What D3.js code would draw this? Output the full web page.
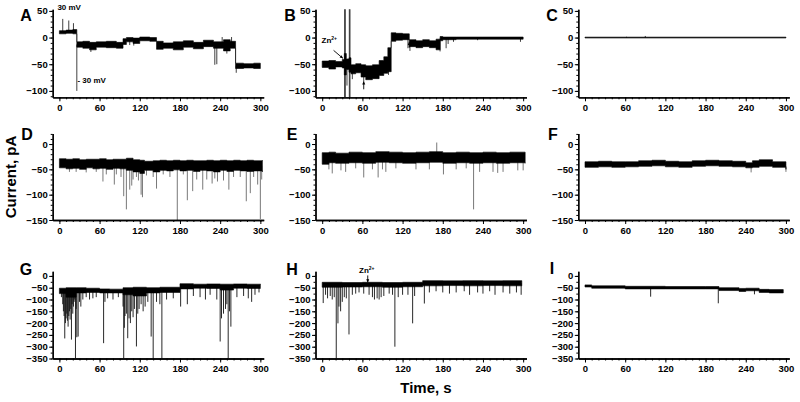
<!DOCTYPE html>
<html>
<head>
<meta charset="utf-8">
<script src="https://cdn.jsdelivr.net/npm/d3@7"></script>
<style>
  body { margin: 0; background: #fff; }
  svg { display: block; }
  text { font-family: Arial, "Liberation Sans", sans-serif; font-weight: bold; fill: #000; }
</style>
</head>
<body>
<div class="container"></div>
<script>
// ---- data (time in s, current in pA) ----
var xLabels = [0, 60, 120, 180, 240, 300];
var rowLabels = [[50, 0, -50, -100], [0, -50, -100, -150], [0, -50, -100, -150, -200, -250, -300, -350]];
var letters = ["A", "B", "C", "D", "E", "F", "G", "H", "I"];

// band = lower / upper edge of the noisy trace, spikes = single openings
var aTime = [0, 10, 20, 26, 35, 45, 55, 70, 85, 95, 100, 110, 120, 135, 145, 155, 170, 185, 200, 215, 230, 245, 255, 263, 275, 290, 300];
var aLow  = [7, 8, 7, -18, -20, -23, -18, -19, -20, -13, -8, -11, -6, -7, -22, -20, -23, -18, -21, -17, -20, -25, -20, -58, -57, -58, -57];
var aHigh = [13, 14, 15, -8, -7, -9, -8, -7, -9, -2, 0, -1, 1, 0, -7, -10, -8, -6, -9, -5, -8, -4, -7, -48, -49, -48, -49];
var aSpikeT = [5, 14, 21, 26, 47, 105, 111, 232, 235, 243, 250, 257, 264];
var aSpikeV = [35, 32, 27, -100, -27, -14, -15, -51, -50, 1, -30, 1, -66];

var bTime = [0, 10, 20, 30, 33, 36, 40, 43, 50, 58, 65, 75, 85, 92, 98, 103, 110, 120, 130, 140, 150, 160, 170, 176, 180, 200, 240, 300];
var bLow  = [-56, -59, -55, -57, -70, -60, -65, -68, -66, -74, -79, -77, -71, -67, -64, -7, -5, -4, -17, -19, -17, -19, -23, -6, -4, -3, -3, -3];
var bHigh = [-44, -43, -45, -41, -30, -40, -38, -51, -49, -51, -53, -51, -43, -36, -19, 9, 8, 7, -4, -6, -4, -6, -3, 2, 1, 1, 1, 1];
var bSpikeT = [33.5, 33.5, 34.5, 34.5, 40.5, 40.5, 41.5, 41.5, 37, 45, 62, 99, 128, 131, 176, 185, 188, 196, 232, 296];
var bSpikeV = [60, -120, 60, -120, 60, -120, 60, -120, -90, -78, -82, -70, -20, -25, -26, -20, -12, -8, -5, -8];

var cTime = [0, 300];
var cLow  = [-0.8, -0.8];
var cHigh = [0.8, 0.8];
var cSpikeT = [62, 90];
var cSpikeV = [1.5, 3];

var dTime = [0, 10, 20, 30, 40, 50, 60, 70, 80, 90, 100, 110, 120, 127, 140, 150, 160, 170, 180, 190, 200, 210, 220, 230, 240, 250, 260, 270, 280, 290, 303];
var dLow  = [-47, -49, -48, -50, -47, -49, -48, -50, -48, -49, -52, -55, -58, -52, -55, -52, -53, -51, -53, -52, -54, -52, -53, -55, -52, -54, -52, -53, -54, -53, -55];
var dHigh = [-29, -30, -29, -31, -30, -30, -29, -31, -30, -30, -28, -31, -32, -34, -33, -32, -33, -32, -33, -32, -33, -33, -32, -33, -32, -33, -32, -33, -32, -33, -32];
var dSpikeT = [15, 25, 40, 55, 65, 70, 82, 85, 92, 96, 100, 105, 108, 110, 115, 118, 122, 124, 130, 140, 145, 155, 165, 176, 185, 191, 199, 205, 214, 220, 228, 232, 236, 245, 253, 260, 270, 279, 285, 290, 296, 300, 302];
var dSpikeV = [-55, -55, -56, -55, -74, -60, -80, -60, -65, -103, -129, -90, -82, -70, -65, -72, -100, -105, -62, -65, -88, -60, -65, -150, -60, -111, -93, -70, -90, -70, -78, -68, -74, -72, -90, -65, -65, -113, -97, -65, -80, -148, -70];

var eTime = [0, 10, 20, 40, 60, 80, 100, 120, 140, 160, 180, 200, 220, 240, 260, 280, 303];
var eLow  = [-40, -37, -38, -37, -38, -36, -37, -38, -37, -36, -38, -37, -38, -37, -38, -37, -38];
var eHigh = [-17, -16, -18, -16, -17, -15, -16, -17, -16, -15, -17, -16, -17, -16, -17, -16, -17];
var eSpikeT = [10, 15, 28, 35, 50, 62, 75, 83.5, 90, 95, 110, 140, 160, 171, 181, 200, 215, 226, 235, 255, 262, 270, 292, 300];
var eSpikeV = [-50, -58, -52, -55, -48, -66, -50, -66, -50, -55, -48, -50, -50, 3, -60, -50, -48, -129, -55, -55, -57, -55, -52, -52];

var fTime = [0, 20, 40, 60, 80, 100, 120, 140, 160, 180, 200, 220, 240, 250, 260, 280, 300];
var fLow  = [-46, -45, -46, -45, -44, -43, -45, -46, -44, -43, -44, -45, -47, -46, -44, -46, -50];
var fHigh = [-35, -34, -35, -35, -33, -32, -34, -35, -33, -32, -33, -34, -37, -33, -31, -35, -38];
var fSpikeT = [248, 300];
var fSpikeV = [-56, -55];

var gTime = [0, 10, 25, 40, 60, 75, 95, 110, 130, 150, 180, 200, 220, 240, 260, 280, 300];
var gLow  = [-75, -90, -72, -70, -72, -72, -80, -85, -72, -70, -55, -52, -53, -60, -52, -53, -50];
var gHigh = [-52, -50, -50, -52, -55, -56, -50, -48, -50, -48, -33, -35, -34, -35, -34, -35, -34];
var gSpikeT = [3, 5, 6, 7, 8, 9, 10, 11, 12, 13, 14, 15, 16, 17, 18, 19, 20, 21, 22, 23, 24, 25, 26, 28, 30, 32, 35, 40, 45, 50, 55,
  66, 68, 72, 80, 88, 95, 96, 97, 98, 100, 102, 104, 106, 108, 110, 112, 115, 117, 119, 122, 125, 128, 132, 137, 140, 145, 150, 153,
  160, 170, 181, 191, 200, 210, 218, 225, 235, 240, 242, 245, 248, 250, 252, 254, 256, 265, 275, 282, 287, 292, 298];
var gSpikeV = [-90, -120, -150, -170, -265, -200, -180, -160, -190, -215, -170, -150, -185, -140, -270, -120, -160, -130, -110, -100, -350, -140, -260, -257, -110, -130, -100, -90, -100, -95, -90,
  -285, -110, -95, -100, -90, -130, -350, -220, -170, -160, -264, -180, -200, -150, -175, -140, -299, -160, -140, -120, -150, -130, -110, -257, -350, -110, -120, -350,
  -100, -95, -130, -120, -85, -90, -100, -80, -100, -278, -180, -160, -140, -120, -350, -150, -215, -90, -85, -95, -110, -80, -70];

var hTime = [0, 30, 60, 90, 120, 150, 180, 210, 240, 270, 298];
var hLow  = [-48, -47, -46, -48, -46, -42, -41, -42, -41, -42, -41];
var hHigh = [-27, -28, -27, -28, -27, -20, -21, -20, -21, -20, -21];
var hSpikeT = [1.5, 5, 8, 12, 15, 18, 21, 23.5, 25, 27.5, 30, 33, 36, 40, 45, 50, 55, 62, 70, 75, 78, 82, 85, 88, 92, 100, 105, 108.5, 113.5,
  120, 128, 135, 138, 152.5, 160, 170, 180, 190, 200, 212, 220, 232, 240, 250, 258, 270, 280, 290, 297];
var hSpikeV = [-115, -80, -95, -85, -100, -90, -350, -201, -130, -150, -110, -90, -95, -248, -80, -75, -70, -75, -80, -90, -100, -95, -100, -90, -85, -75, -80, -300, -90,
  -80, -80, -201, -85, -117, -70, -65, -70, -75, -70, -65, -80, -70, -75, -65, -80, -70, -75, -70, -80];

var iTime = [0, 10, 60, 120, 180, 200, 230, 240, 260, 275, 296];
var iLow  = [-47, -52, -55, -55, -55, -62, -66, -63, -70, -72, -72];
var iHigh = [-38, -42, -44, -45, -45, -50, -53, -52, -57, -58, -58];
var iSpikeT = [98, 199, 253];
var iSpikeV = [-88, -116, -78];

// ---- layout ----
var WIDTH = 800, HEIGHT = 402;
var COLS = [52.7, 315.5, 578.3];
var X_SPAN = 211;
var ROWS = [
  { top: 9.3, bottom: 97.3, domain: [-112, 53], minor: 10 },
  { top: 133.4, bottom: 220, domain: [-150, 21], minor: 10 },
  { top: 271.2, bottom: 358.5, domain: [-350, 20], minor: 25 }
];
var LETTER_POS = [[26, 15], [290, 15], [552, 15], [27, 134], [292, 134], [553, 134], [26, 269], [292, 269], [552, 268]];

var panels = [
  [aTime, aLow, aHigh, aSpikeT, aSpikeV], [bTime, bLow, bHigh, bSpikeT, bSpikeV], [cTime, cLow, cHigh, cSpikeT, cSpikeV],
  [dTime, dLow, dHigh, dSpikeT, dSpikeV], [eTime, eLow, eHigh, eSpikeT, eSpikeV], [fTime, fLow, fHigh, fSpikeT, fSpikeV],
  [gTime, gLow, gHigh, gSpikeT, gSpikeV], [hTime, hLow, hHigh, hSpikeT, hSpikeV], [iTime, iLow, iHigh, iSpikeT, iSpikeV]
];

var translate = function (x, y) { return "translate(" + x + "," + y + ")"; };

var svg = d3.select(".container").append("svg").attr("width", WIDTH).attr("height", HEIGHT);
var defs = svg.append("defs");

var styleAxis = function (g, fontSize) {
  g.select(".domain").attr("stroke", "#000").attr("stroke-width", 1.3);
  g.selectAll(".tick line").attr("stroke", "#000").attr("stroke-width", 1);
  g.selectAll(".tick text").style("font-size", fontSize + "px").style("font-family", "Arial, 'Liberation Sans', sans-serif")
    .style("font-weight", "bold").attr("fill", "#000");
};

var drawPanel = function (d, idx) {
  var col = idx % 3, rowIdx = Math.floor(idx / 3), row = ROWS[rowIdx];
  var x = d3.scaleLinear().domain([-10, 305]).range([COLS[col], COLS[col] + X_SPAN]);
  var y = d3.scaleLinear().domain(row.domain).range([row.bottom, row.top]);

  // clip
  var clipId = "clip" + idx;
  defs.append("clipPath").attr("id", clipId).append("rect")
    .attr("x", COLS[col]).attr("y", row.top).attr("width", X_SPAN).attr("height", row.bottom - row.top);

  var g = svg.append("g").attr("clip-path", "url(#" + clipId + ")");
  var time = d[0], low = d[1], high = d[2], sT = d[3], sV = d[4];

  var mid = function (t) {
    var i = d3.bisectRight(time, t) - 1;
    if (i < 0) i = 0;
    return (low[i] + high[i]) / 2;
  };
  var spikes = sT.map(function (t, i) { return { t: t, v: sV[i] }; });
  g.selectAll(".spike").data(spikes).enter().append("line")
    .attr("x1", function (s) { return x(s.t); }).attr("x2", function (s) { return x(s.t); })
    .attr("y1", function (s) { return y(mid(s.t)); }).attr("y2", function (s) { return y(s.v); })
    .attr("stroke", rowIdx === 1 ? "#555" : "#111").attr("stroke-width", rowIdx === 2 ? 0.9 : 0.8);

  var band = time.map(function (t, i) { return { t: t, lo: low[i], hi: high[i] }; });
  var area = d3.area().curve(d3.curveStepAfter)
    .x(function (p) { return x(p.t); })
    .y0(function (p) { return y(p.lo); })
    .y1(function (p) { return y(p.hi); });
  g.append("path").datum(band).attr("d", area).attr("fill", "#000").attr("stroke", "#000").attr("stroke-width", 0.6);

  // x axis
  var xg1 = svg.append("g").attr("transform", translate(0, row.bottom))
    .call(d3.axisBottom(x).tickValues(d3.range(0, 301, 10)).tickSize(2).tickFormat("").tickSizeOuter(0));
  styleAxis(xg1, 9.5);
  var xg2 = svg.append("g").attr("transform", translate(0, row.bottom))
    .call(d3.axisBottom(x).tickValues(xLabels).tickSize(4).tickPadding(3).tickSizeOuter(0));
  styleAxis(xg2, 9.5);

  // y axis
  var minorTicks = d3.range(Math.ceil(row.domain[0] / row.minor) * row.minor, row.domain[1] + 0.1, row.minor);
  var yg1 = svg.append("g").attr("transform", translate(COLS[col], 0))
    .call(d3.axisLeft(y).tickValues(minorTicks).tickSize(2).tickFormat("").tickSizeOuter(0));
  styleAxis(yg1, 9.5);
  var yg2 = svg.append("g").attr("transform", translate(COLS[col], 0))
    .call(d3.axisLeft(y).tickValues(rowLabels[rowIdx]).tickSize(3.5).tickPadding(1.5).tickSizeOuter(0));
  styleAxis(yg2, 9.5);

  svg.append("text").attr("x", LETTER_POS[idx][0]).attr("y", LETTER_POS[idx][1] + 6)
    .attr("text-anchor", "middle").style("font-size", "16px").text(letters[idx]);

  return { x: x, y: y };
};

var scales = panels.map(drawPanel);

// ---- annotations ----
var arrow = function (x1, y1, x2, y2) {
  svg.append("line").attr("x1", x1).attr("y1", y1).attr("x2", x2).attr("y2", y2)
    .attr("stroke", "#000").attr("stroke-width", 0.9);
  var ang = Math.atan2(y2 - y1, x2 - x1), L = 3.5, W = 0.45;
  var pts = [[x2, y2],
    [x2 - L * Math.cos(ang - W), y2 - L * Math.sin(ang - W)],
    [x2 - L * Math.cos(ang + W), y2 - L * Math.sin(ang + W)]];
  svg.append("polygon").attr("points", pts.map(function (p) { return p.join(","); }).join(" ")).attr("fill", "#000");
};

var sA = scales[0], sB = scales[1], sH = scales[7];
svg.append("text").attr("x", sA.x(-3)).attr("y", 10).style("font-size", "8px").text("30 mV");
svg.append("text").attr("x", sA.x(27)).attr("y", sA.y(-80) + 3).style("font-size", "8px").text("- 30 mV");

var zn = function (xx, yy) {
  var t = svg.append("text").attr("x", xx).attr("y", yy).style("font-size", "8px");
  t.append("tspan").text("Zn");
  t.append("tspan").attr("dy", -3).style("font-size", "5px").text("2+");
};
zn(sB.x(-1), sB.y(-11));
arrow(sB.x(17), sB.y(-24), sB.x(31), sB.y(-39));
arrow(sB.x(62), sB.y(-97), sB.x(62), sB.y(-82));
arrow(sB.x(130), sB.y(-19), sB.x(130), sB.y(-8));

zn(sH.x(55), sH.y(11));
arrow(sH.x(68), sH.y(2), sH.x(68), sH.y(-28));

// ---- axis titles ----
svg.append("text").attr("transform", translate(16, 177) + " rotate(-90)")
  .attr("text-anchor", "middle").style("font-size", "15px").text("Current, pA");
svg.append("text").attr("x", 426).attr("y", 393)
  .attr("text-anchor", "middle").style("font-size", "15px").text("Time, s");
</script>
</body>
</html>
